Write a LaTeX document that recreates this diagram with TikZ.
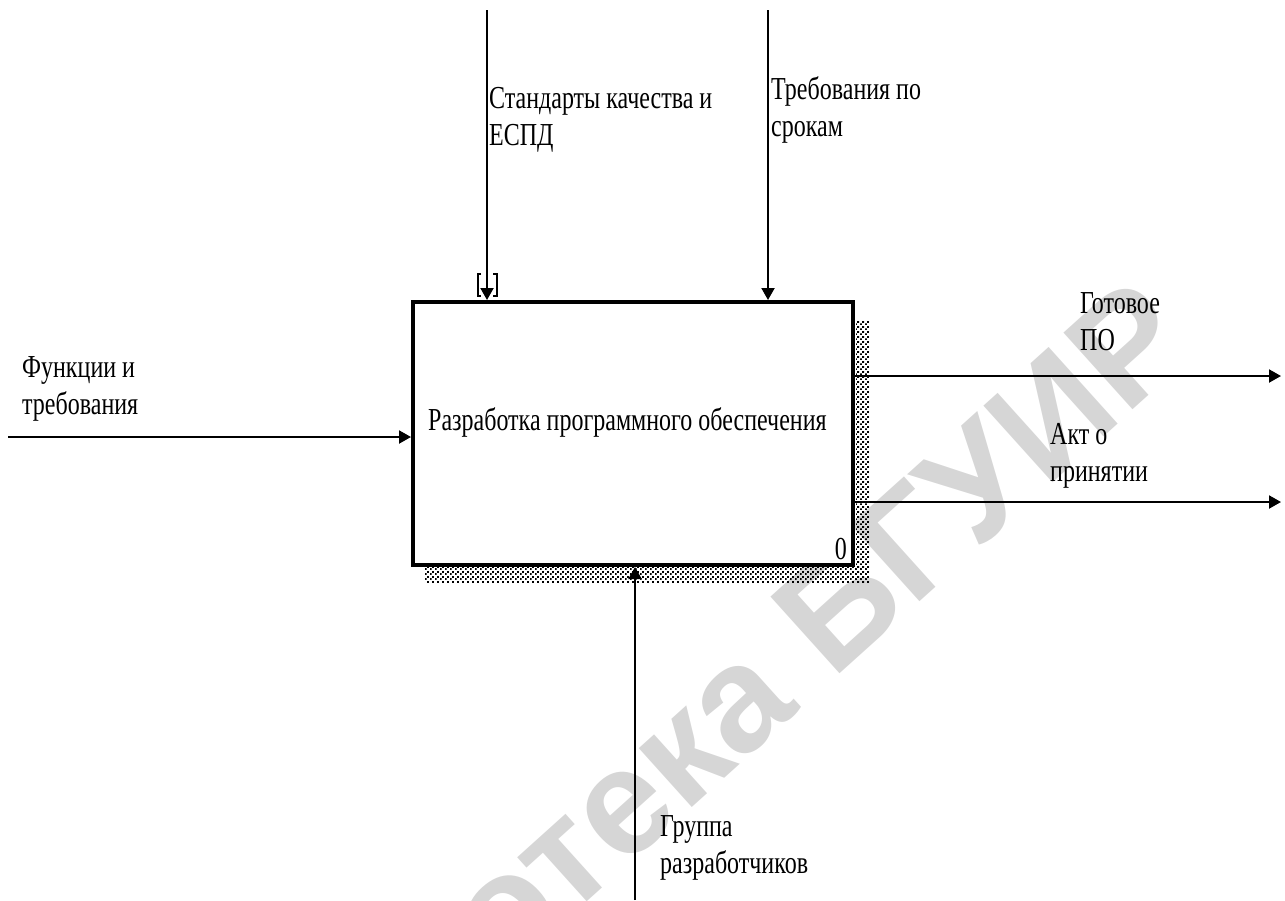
\documentclass[tikz,border=0pt]{standalone}
\usepackage{fontspec}
\setmainfont{Liberation Serif}[FakeStretch=0.75]
\newfontfamily\wmfont{Liberation Sans}
\usetikzlibrary{arrows.meta,patterns.meta}
\definecolor{wmgray}{RGB}{214,214,214}
\tikzdeclarepattern{name=shadowdots, type=uncolored,
  bounding box={(0pt,0pt) and (5pt,5pt)}, tile size={(5pt,5pt)},
  code={\fill (0pt,0pt) rectangle (2pt,2pt); \fill (2.5pt,2.5pt) rectangle (4.5pt,4.5pt);}}
\begin{document}
\begin{tikzpicture}[x=1pt,y=-1pt,
  lbl/.style={anchor=base west, inner sep=0pt, align=left, font=\fontsize{32}{37}\selectfont},
  flow/.style={line width=2pt, -{Triangle[length=12pt,width=13pt]}},
  actbox/.style={draw, line width=4pt, minimum width=440pt, minimum height=263pt, inner sep=0pt},
  shadow/.style={pattern=shadowdots, pattern color=black},
  tunnel/.style={line width=1.5pt}]
\useasboundingbox (0,0) rectangle (1285,900);
% watermark
\node[rotate=42, anchor=base east, inner sep=0pt, text=wmgray,
  font=\wmfont\bfseries\fontsize{150}{150}\selectfont] (wm) at (1200,350) {Библиотека БГУИР};
% shadow
\fill[shadow] (856,320) rectangle (869,582);
\fill[shadow] (425,567) rectangle (869,582);
% box
\node[actbox, fill=white] (box) at (633,433.5) {};
\node[anchor=base west, inner sep=0pt, font=\fontsize{32}{37}\selectfont] (boxlabel) at (428,430) {Разработка программного обеспечения};
\node[anchor=base east, inner sep=0pt, font=\fontsize{32}{37}\selectfont] (num) at (847,559) {0};
% coordinates
\coordinate (in1) at (8,437);
\coordinate (c1) at (487,10);
\coordinate (c2) at (768,10);
\coordinate (o1) at (1281,376);
\coordinate (o2) at (1281,502);
\coordinate (m1) at (635,900);
% arrows
\draw[flow] (in1) -- (box.west |- in1);
\draw[flow] (c1) -- (c1 |- box.north);
\draw[flow] (c2) -- (c2 |- box.north);
\draw[flow] (box.east |- o1) -- (o1);
\draw[flow] (box.east |- o2) -- (o2);
\draw[flow] (m1) -- (m1 |- box.south);
% tunnel brackets
\draw[tunnel] (481,274) -- (478,274) -- (478,296) -- (481,296);
\draw[tunnel] (493,274) -- (497,274) -- (497,296) -- (493,296);
% labels (anchor at baseline of the last line)
\node[lbl] (lc1) at (489,145) {Стандарты качества и\\ЕСПД};
\node[lbl] (lc2) at (771,136) {Требования по\\срокам};
\node[lbl] (li1) at (22,414) {Функции и\\требования};
\node[lbl] (lo1) at (1080,350) {Готовое\\ПО};
\node[lbl] (lo2) at (1050,481) {Акт о\\принятии};
\node[lbl] (lm1) at (660,873) {Группа\\разработчиков};
\end{tikzpicture}
\end{document}
